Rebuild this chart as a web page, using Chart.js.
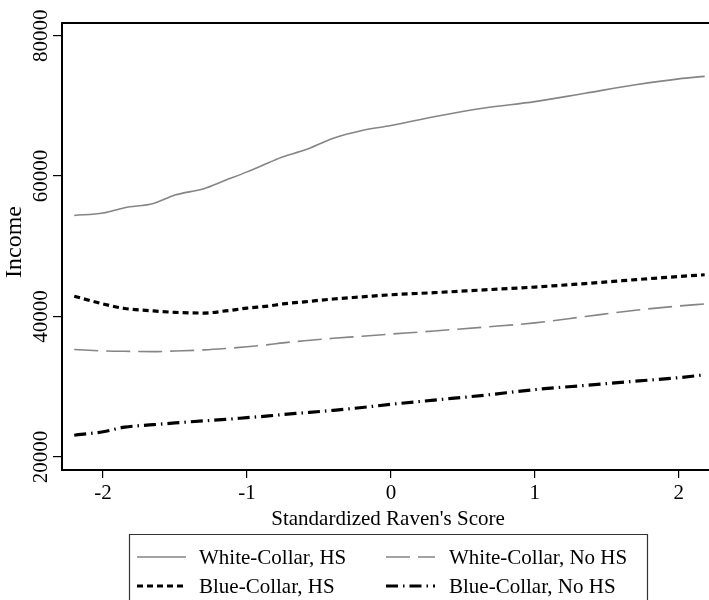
<!DOCTYPE html>
<html>
<head>
<meta charset="utf-8">
<script src="https://cdn.jsdelivr.net/npm/chart.js@4.4.1/dist/chart.umd.min.js"></script>
<style>
  html, body { margin: 0; padding: 0; background: #fff; }
  #wrap { width: 709px; height: 600px; position: relative; }
</style>
</head>
<body>
<div id="wrap"><canvas id="c" width="709" height="600"></canvas></div>
<script>
// Standardized Raven's score grid
const ravenScore = [-2.2, -2.0, -1.85, -1.65, -1.5, -1.3, -1.15, -1.0, -0.85, -0.75, -0.6,
                    -0.4, -0.2, 0.0, 0.3, 0.65, 1.0, 1.35, 1.7, 2.0, 2.18];

// Predicted income by occupation / schooling group
const whiteCollarHS   = [54400, 54750, 55500, 56100, 57300, 58200, 59400, 60600, 61900, 62750, 63700,
                         65400, 66500, 67200, 68450, 69700, 70600, 71800, 73000, 73850, 74200];
const whiteCollarNoHS = [35300, 35100, 35050, 35000, 35100, 35250, 35450, 35700, 36000, 36250, 36550,
                         36900, 37200, 37500, 37950, 38500, 39100, 40000, 40900, 41500, 41800];
const blueCollarHS    = [42900, 41800, 41150, 40800, 40600, 40500, 40800, 41200, 41500, 41800, 42100,
                         42500, 42800, 43100, 43400, 43800, 44200, 44700, 45250, 45700, 45950];
const blueCollarNoHS  = [23100, 23600, 24250, 24600, 24850, 25150, 25350, 25600, 25850, 26050, 26300,
                         26650, 27050, 27500, 28100, 28800, 29600, 30200, 30800, 31300, 31700];

// Axis ticks
const xTickValues = [-2, -1, 0, 1, 2];
const yTickValues = [20000, 40000, 60000, 80000];

const seriesLabels = ['White-Collar, HS', 'White-Collar, No HS', 'Blue-Collar, HS', 'Blue-Collar, No HS'];

const SERIF = "'Liberation Serif', 'DejaVu Serif', serif";
const GREY = '#858585';

const styles = [
  { color: GREY, width: 1.6, dash: [] },
  { color: GREY, width: 1.6, dash: [24, 8] },
  { color: '#000', width: 3.2, dash: [6, 4] },
  { color: '#000', width: 3.2, dash: [12, 5, 1.5, 5] }
];

const pts = ys => ravenScore.map((x, i) => ({ x: x, y: ys[i] }));
const seriesValues = [whiteCollarHS, whiteCollarNoHS, blueCollarHS, blueCollarNoHS];

const datasets = seriesValues.map((vals, i) => ({
  label: seriesLabels[i],
  data: pts(vals),
  borderColor: styles[i].color,
  borderWidth: styles[i].width,
  borderDash: styles[i].dash,
  borderCapStyle: 'butt',
  pointRadius: 0,
  fill: false,
  tension: 0.3,
  cubicInterpolationMode: 'monotone'
}));

// Frame, rotated y labels, axis titles and the boxed legend
const decorations = {
  id: 'decorations',
  afterDraw(chart) {
    const ctx = chart.ctx;
    const a = chart.chartArea;
    const ys = chart.scales.y;
    ctx.save();
    // top frame line
    ctx.strokeStyle = '#000';
    ctx.lineWidth = 2;
    ctx.beginPath();
    ctx.moveTo(a.left - 1, a.top);
    ctx.lineTo(chart.width, a.top);
    ctx.stroke();

    // rotated y tick labels
    ctx.fillStyle = '#000';
    ctx.font = '21px ' + SERIF;
    ctx.textAlign = 'center';
    ctx.textBaseline = 'middle';
    yTickValues.forEach(v => {
      const py = ys.getPixelForValue(v);
      ctx.save();
      ctx.translate(41, py);
      ctx.rotate(-Math.PI / 2);
      ctx.fillText(String(v), 0, 0);
      ctx.restore();
    });

    // y title
    ctx.save();
    ctx.translate(15, 242);
    ctx.rotate(-Math.PI / 2);
    ctx.font = '24px ' + SERIF;
    ctx.fillText('Income', 0, 0);
    ctx.restore();

    // x title
    ctx.font = '21px ' + SERIF;
    ctx.fillText("Standardized Raven's Score", 388, 519);

    // legend box
    const bx = 129.5, by = 534.5, bw = 518;
    ctx.strokeStyle = '#333';
    ctx.lineWidth = 1.2;
    ctx.beginPath();
    ctx.moveTo(bx, chart.height + 2);
    ctx.lineTo(bx, by);
    ctx.lineTo(bx + bw, by);
    ctx.lineTo(bx + bw, chart.height + 2);
    ctx.stroke();

    const cols = [{ sx: 137, tx: 199 }, { sx: 386, tx: 449 }];
    const rows = [557, 586];
    seriesLabels.forEach((lab, i) => {
      const col = cols[i % 2];
      const row = rows[Math.floor(i / 2)];
      const s = styles[i];
      ctx.save();
      ctx.strokeStyle = s.color;
      ctx.lineWidth = s.width;
      ctx.lineCap = 'butt';
      ctx.setLineDash(s.dash);
      ctx.beginPath();
      ctx.moveTo(col.sx, row);
      ctx.lineTo(col.sx + 49, row);
      ctx.stroke();
      ctx.restore();
      ctx.fillStyle = '#000';
      ctx.textAlign = 'left';
      ctx.fillText(lab, col.tx, row + 1);
    });
    ctx.restore();
  }
};

new Chart(document.getElementById('c'), {
  type: 'line',
  data: { datasets: datasets },
  options: {
    responsive: false,
    animation: false,
    devicePixelRatio: 1,
    layout: { padding: { top: 23, right: 0, left: 0, bottom: 0 } },
    plugins: { legend: { display: false }, tooltip: { enabled: false } },
    scales: {
      x: {
        type: 'linear',
        min: -2.285,
        max: 2.21,
        afterBuildTicks: s => { s.ticks = xTickValues.map(v => ({ value: v })); },
        afterFit: s => { s.height = 130; },
        border: { display: true, color: '#000', width: 2 },
        grid: { drawOnChartArea: false, drawTicks: true, tickLength: 8, color: '#000', lineWidth: 1.2 },
        ticks: {
          color: '#000',
          font: { family: SERIF, size: 21 },
          padding: 3,
          maxRotation: 0,
          callback: v => String(v)
        }
      },
      y: {
        type: 'linear',
        min: 18150,
        max: 81800,
        afterBuildTicks: s => { s.ticks = yTickValues.map(v => ({ value: v })); },
        afterFit: s => { s.width = 62; },
        border: { display: true, color: '#000', width: 2 },
        grid: { drawOnChartArea: false, drawTicks: true, tickLength: 9, color: '#000', lineWidth: 1.2 },
        ticks: { display: false }
      }
    }
  },
  plugins: [decorations]
});
</script>
</body>
</html>
